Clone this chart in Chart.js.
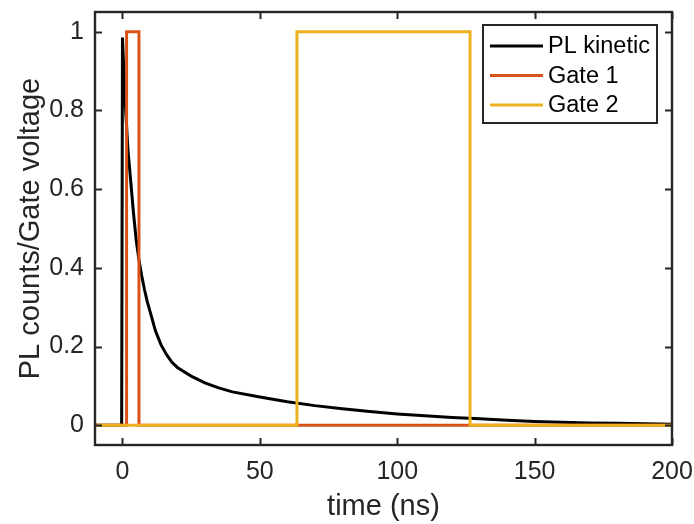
<!DOCTYPE html>
<html>
<head>
<meta charset="utf-8">
<script src="https://cdn.jsdelivr.net/npm/chart.js@4/dist/chart.umd.min.js"></script>
<style>
  html, body { margin: 0; padding: 0; background: #fff; }
  #wrap { width: 694px; height: 524px; }
</style>
</head>
<body>
<div id="wrap"><canvas id="c" width="694" height="524"></canvas></div>
<script>
// ---- data ----
const seriesNames = ["PL kinetic", "Gate 1", "Gate 2"];
const seriesColors = ["#000000", "#D95319", "#EDB120"];

const plTime =   [-10, -0.3, 0, 0.5, 1, 2, 3, 4, 5, 6, 7, 8, 9, 10, 12, 14, 16, 18, 20, 22, 25, 30, 35, 40, 50, 60, 70, 80, 90, 100, 110, 120, 130, 140, 150, 160, 170, 180, 190, 200];
const plCounts = [0, 0, 0.985, 0.90, 0.82, 0.70, 0.62, 0.54, 0.47, 0.42, 0.38, 0.345, 0.315, 0.29, 0.24, 0.205, 0.18, 0.16, 0.147, 0.138, 0.125, 0.108, 0.095, 0.085, 0.072, 0.06, 0.05, 0.042, 0.035, 0.029, 0.024, 0.02, 0.017, 0.013, 0.010, 0.008, 0.006, 0.005, 0.004, 0.003];

const gate1Time =    [-10, 1.5, 1.5, 6, 6, 200];
const gate1Voltage = [0, 0, 1, 1, 0, 0];

const gate2Time =    [-10, 63.5, 63.5, 126.5, 126.5, 200];
const gate2Voltage = [0, 0, 1, 1, 0, 0];

const xTicks = [0, 50, 100, 150, 200];
const yTicks = [0, 0.2, 0.4, 0.6, 0.8, 1];
const xLabel = "time (ns)";
const yLabel = "PL counts/Gate voltage";

// ---- build ----
const toPts = (xs, ys) => xs.map((x, i) => ({x: x, y: ys[i]}));
const AX = "#262626";
const FONT = "'Liberation Sans', Arial, sans-serif";

const frameTicks = {
  id: 'frameTicks',
  afterDatasetsDraw(chart) {
    const {ctx, chartArea: a, scales} = chart;
    const L = 7;
    ctx.save();
    ctx.strokeStyle = AX;
    ctx.lineWidth = 2;
    ctx.beginPath();
    xTicks.forEach(v => {
      const px = Math.round(scales.x.getPixelForValue(v)) + 0.5;
      ctx.moveTo(px, a.bottom); ctx.lineTo(px, a.bottom - L);
      ctx.moveTo(px, a.top); ctx.lineTo(px, a.top + L);
    });
    yTicks.forEach(v => {
      const py = Math.round(scales.y.getPixelForValue(v)) + 0.5;
      ctx.moveTo(a.left, py); ctx.lineTo(a.left + L, py);
      ctx.moveTo(a.right, py); ctx.lineTo(a.right - L, py);
    });
    ctx.stroke();
    ctx.lineWidth = 2.4;
    ctx.strokeRect(a.left, a.top, a.right - a.left, a.bottom - a.top);

    // legend
    const bx = 483, by = 25, bw = 174, bh = 98;
    ctx.fillStyle = '#fff';
    ctx.fillRect(bx, by, bw, bh);
    ctx.lineWidth = 2;
    ctx.strokeStyle = AX;
    ctx.strokeRect(bx, by, bw, bh);
    ctx.font = "23.5px " + FONT;
    ctx.textBaseline = 'middle';
    ctx.textAlign = 'left';
    seriesNames.forEach((n, i) => {
      const y = 46 + i * 29.5;
      ctx.strokeStyle = seriesColors[i];
      ctx.lineWidth = 3;
      ctx.beginPath();
      ctx.moveTo(490, y); ctx.lineTo(543, y);
      ctx.stroke();
      ctx.fillStyle = '#000';
      ctx.fillText(n, 548, y + 1);
    });
    ctx.restore();
  }
};

const ds = [
  {label: seriesNames[0], data: toPts(plTime, plCounts), borderColor: seriesColors[0], order: 2},
  {label: seriesNames[1], data: toPts(gate1Time, gate1Voltage), borderColor: seriesColors[1], order: 1},
  {label: seriesNames[2], data: toPts(gate2Time, gate2Voltage), borderColor: seriesColors[2], order: 0}
].map(d => Object.assign(d, {borderWidth: 3, pointRadius: 0, tension: 0, fill: false, showLine: true, borderJoinStyle: 'miter'}));

new Chart(document.getElementById('c'), {
  type: 'line',
  data: {datasets: ds},
  plugins: [frameTicks],
  options: {
    responsive: false,
    animation: false,
    devicePixelRatio: 1,
    layout: {padding: {top: 12, right: 22, left: 0, bottom: 0}},
    plugins: {legend: {display: false}, tooltip: {enabled: false}},
    scales: {
      x: {
        type: 'linear', min: -10, max: 200,
        afterBuildTicks: s => { s.ticks = xTicks.map(v => ({value: v})); },
        afterFit: s => { s.height = 79; s.paddingLeft = 0; s.paddingRight = 0; },
        grid: {display: false, drawTicks: false},
        border: {display: false},
        ticks: {color: AX, font: {family: FONT, size: 25}, padding: 12, maxRotation: 0, callback: v => String(v)},
        title: {display: true, text: xLabel, color: AX, font: {family: FONT, size: 29}, padding: {top: 0, bottom: 0}}
      },
      y: {
        type: 'linear', min: -0.05, max: 1.05,
        afterBuildTicks: s => { s.ticks = yTicks.map(v => ({value: v})); },
        afterFit: s => { s.width = 95; s.paddingTop = 0; s.paddingBottom = 0; },
        grid: {display: false, drawTicks: false},
        border: {display: false},
        ticks: {color: AX, font: {family: FONT, size: 25}, padding: 11, callback: v => String(v)},
        title: {display: true, text: yLabel, color: AX, font: {family: FONT, size: 29}, padding: {top: 14, bottom: 0}}
      }
    }
  }
});
</script>
</body>
</html>
